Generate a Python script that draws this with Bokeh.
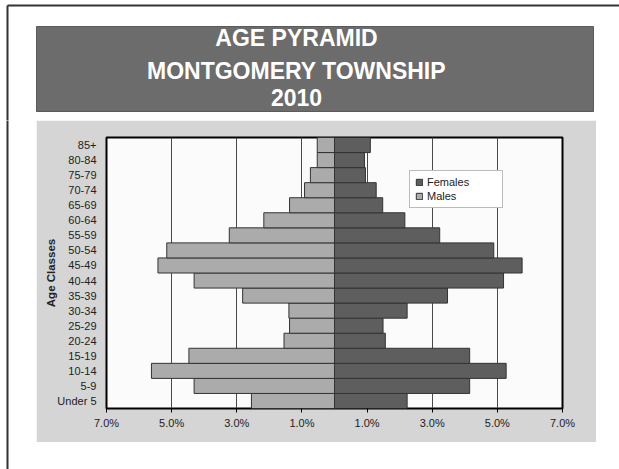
from bokeh.plotting import figure
from bokeh.models import Range1d, FactorRange, FixedTicker, Legend, LegendItem, ColumnDataSource
from bokeh.layouts import column, row
from bokeh.core.properties import value
from bokeh.embed import file_html
from bokeh.resources import INLINE

# ---- data (percent of total population) ----
title_lines = ["AGE PYRAMID", "MONTGOMERY TOWNSHIP", "2010"]
age_classes = ["Under 5", "5-9", "10-14", "15-19", "20-24", "25-29", "30-34", "35-39",
               "40-44", "45-49", "50-54", "55-59", "60-64", "65-69", "70-74", "75-79",
               "80-84", "85+"]
males = [2.55, 4.31, 5.62, 4.47, 1.55, 1.38, 1.40, 2.82,
         4.31, 5.42, 5.15, 3.23, 2.17, 1.38, 0.92, 0.74, 0.53, 0.53]
females = [2.23, 4.15, 5.27, 4.15, 1.56, 1.49, 2.23, 3.47,
           5.19, 5.76, 4.89, 3.23, 2.16, 1.48, 1.28, 0.95, 0.92, 1.10]
x_ticks = [-7, -5, -3, -1, 1, 3, 5, 7]
grid_ticks = [-5, -3, -1, 1, 3, 5]
series_names = ["Females", "Males"]

FONT = "Liberation Sans"


def blank(w, h, x_end, y_start, y_end):
    f = figure(width=w, height=h, x_range=Range1d(0, x_end), y_range=Range1d(y_start, y_end),
               x_axis_type=None, y_axis_type=None, min_border=0, outline_line_color=None,
               output_backend="svg", toolbar_location=None,
               background_fill_color="white", border_fill_color="white")
    f.grid.visible = False
    return f


# ---- banner (title) ----
banner = blank(619, 120, 619, 120, 0)
banner.segment(x0=[7, 7], y0=[5, 5], x1=[630, 7], y1=[5, 130], line_color="#333333", line_width=2)
banner.quad(left=[36], right=[593], top=[26], bottom=[111], fill_color="#6c6c6c", line_color="#5a5a5a")
banner.text(x=[296, 296, 296], y=[37.5, 70.5, 97], text=title_lines,
            text_align="center", text_baseline="middle", text_color="white",
            text_font=value(FONT), text_font_style="bold", text_font_size="23px")

# ---- left strip carrying the page border ----
strip = blank(36, 349, 36, 0, 349)
strip.segment(x0=[7], y0=[-10], x1=[7], y1=[360], line_color="#333333", line_width=2)

# ---- white spacer below the chart ----
spacer = blank(560, 27, 560, 0, 27)
spacer.segment(x0=[0], y0=[-5], x1=[0], y1=[-5], line_color=None)

# ---- pyramid chart ----
src = ColumnDataSource(dict(age=age_classes,
                            m_left=[-v for v in males],
                            f_right=females,
                            zero=[0] * len(age_classes)))

chart = figure(width=560, height=322, y_range=FactorRange(*age_classes), x_range=Range1d(-7, 7),
               min_border_left=70, min_border_right=34, min_border_top=17, min_border_bottom=34,
               border_fill_color="#d5d5d5", background_fill_color="#fbfbfb",
               outline_line_color="black", outline_line_width=2,
               output_backend="svg", toolbar_location=None)

rm = chart.hbar(y="age", left="m_left", right="zero", height=1.0, source=src,
                fill_color="#ababab", line_color="#333333", line_width=1)
rf = chart.hbar(y="age", left="zero", right="f_right", height=1.0, source=src,
                fill_color="#5e5e5e", line_color="#333333", line_width=1)

chart.xgrid.ticker = FixedTicker(ticks=grid_ticks)
chart.xgrid.grid_line_color = "#4a4a4a"
chart.xgrid.grid_line_width = 1
chart.ygrid.grid_line_color = None

xa = chart.xaxis[0]
xa.ticker = FixedTicker(ticks=x_ticks)
xa.major_label_overrides = {t: f"{abs(t):.1f}%" for t in x_ticks}
xa.major_tick_in = 0
xa.major_tick_out = 4
xa.minor_tick_line_color = None
xa.axis_line_color = None
xa.major_label_standoff = 4
xa.major_label_text_font = FONT
xa.major_label_text_font_size = "11px"
xa.major_label_text_color = "#222222"

ya = chart.yaxis[0]
ya.major_tick_line_color = None
ya.minor_tick_line_color = None
ya.axis_line_color = None
ya.major_label_standoff = 4
ya.major_label_text_font = FONT
ya.major_label_text_font_size = "11px"
ya.major_label_text_color = "#222222"
ya.axis_label = "Age Classes"
ya.axis_label_text_font = FONT
ya.axis_label_text_font_style = "bold"
ya.axis_label_text_font_size = "11.5px"
ya.axis_label_text_color = "#222222"
ya.axis_label_standoff = -3

legend = Legend(items=[LegendItem(label=series_names[0], renderers=[rf]),
                       LegendItem(label=series_names[1], renderers=[rm])],
                location=(303, 200), padding=5, spacing=2, margin=0,
                glyph_width=8, glyph_height=8, label_height=12, label_width=70,
                label_standoff=4,
                label_text_font=FONT, label_text_font_size="11px", label_text_color="#222222",
                border_line_color="#777777", border_line_width=1,
                background_fill_color="white", background_fill_alpha=1.0)
chart.add_layout(legend)

layout = column(banner, row(strip, column(chart, spacer)))

open("out.html", "w").write(file_html(layout, INLINE, "Age Pyramid"))
